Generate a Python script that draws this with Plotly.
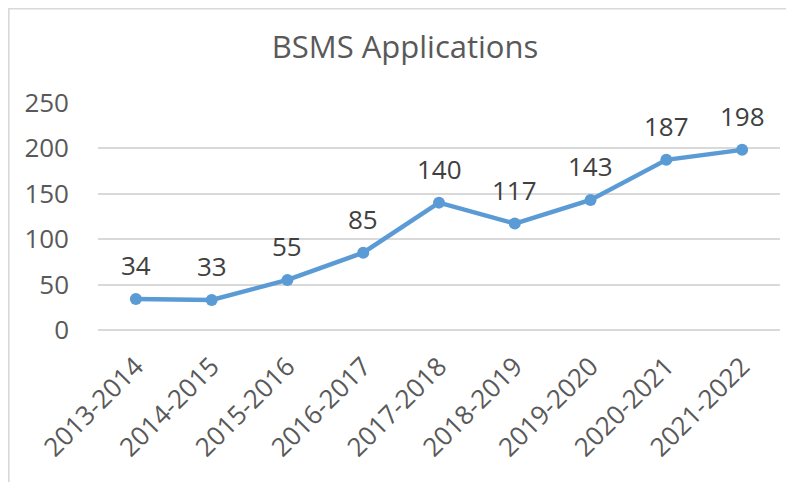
import plotly.graph_objects as go

categories = ["2013-2014", "2014-2015", "2015-2016", "2016-2017", "2017-2018",
              "2018-2019", "2019-2020", "2020-2021", "2021-2022"]
applications = [34, 33, 55, 85, 140, 117, 143, 187, 198]
y_ticks = [0, 50, 100, 150, 200, 250]

LINE = "#5B9BD5"
TXT = "#595959"
FONT = "Open Sans"

fig = go.Figure()
fig.add_trace(go.Scatter(
    x=categories, y=applications, mode="lines+markers",
    line=dict(color=LINE, width=4.5),
    marker=dict(color=LINE, size=12),
    hoverinfo="skip", showlegend=False,
))

for c, v in zip(categories, applications):
    fig.add_annotation(x=c, y=v, text=str(v), showarrow=False, yshift=34,
                       font=dict(family=FONT, size=26, color="#404040"))

fig.add_shape(type="rect", xref="paper", yref="paper",
              x0=-0.131, x1=1.05, y0=-0.75, y1=1.41,
              line=dict(color="#D9D9D9", width=2), fillcolor="rgba(0,0,0,0)",
              layer="below")

W, H = 786, 474
fig.update_layout(
    width=W, height=H,
    margin=dict(l=90, r=14, t=94, b=152),
    paper_bgcolor="white", plot_bgcolor="white",
    font=dict(family=FONT, color=TXT),
    title=dict(text="BSMS Applications", x=397 / W, xanchor="center",
               y=1 - 39 / H, yanchor="middle",
               font=dict(family=FONT, size=31, color=TXT)),
)
fig.update_xaxes(
    type="category", tickangle=-45, showgrid=False, showline=False, zeroline=False,
    automargin=False,
    ticks="", tickfont=dict(family=FONT, size=26, color=TXT), ticklabelstandoff=15,
    range=[-0.5, len(categories) - 0.5],
)
fig.update_yaxes(
    range=[0, 250.6], tickvals=y_ticks, showgrid=True, gridcolor="#D9D9D9",
    gridwidth=1.5, zeroline=True, zerolinecolor="#D9D9D9", zerolinewidth=1.5,
    automargin=False,
    showline=False, ticks="", tickfont=dict(family=FONT, size=26, color=TXT),
    ticklabelstandoff=28,
)

fig.write_html("out.html")
